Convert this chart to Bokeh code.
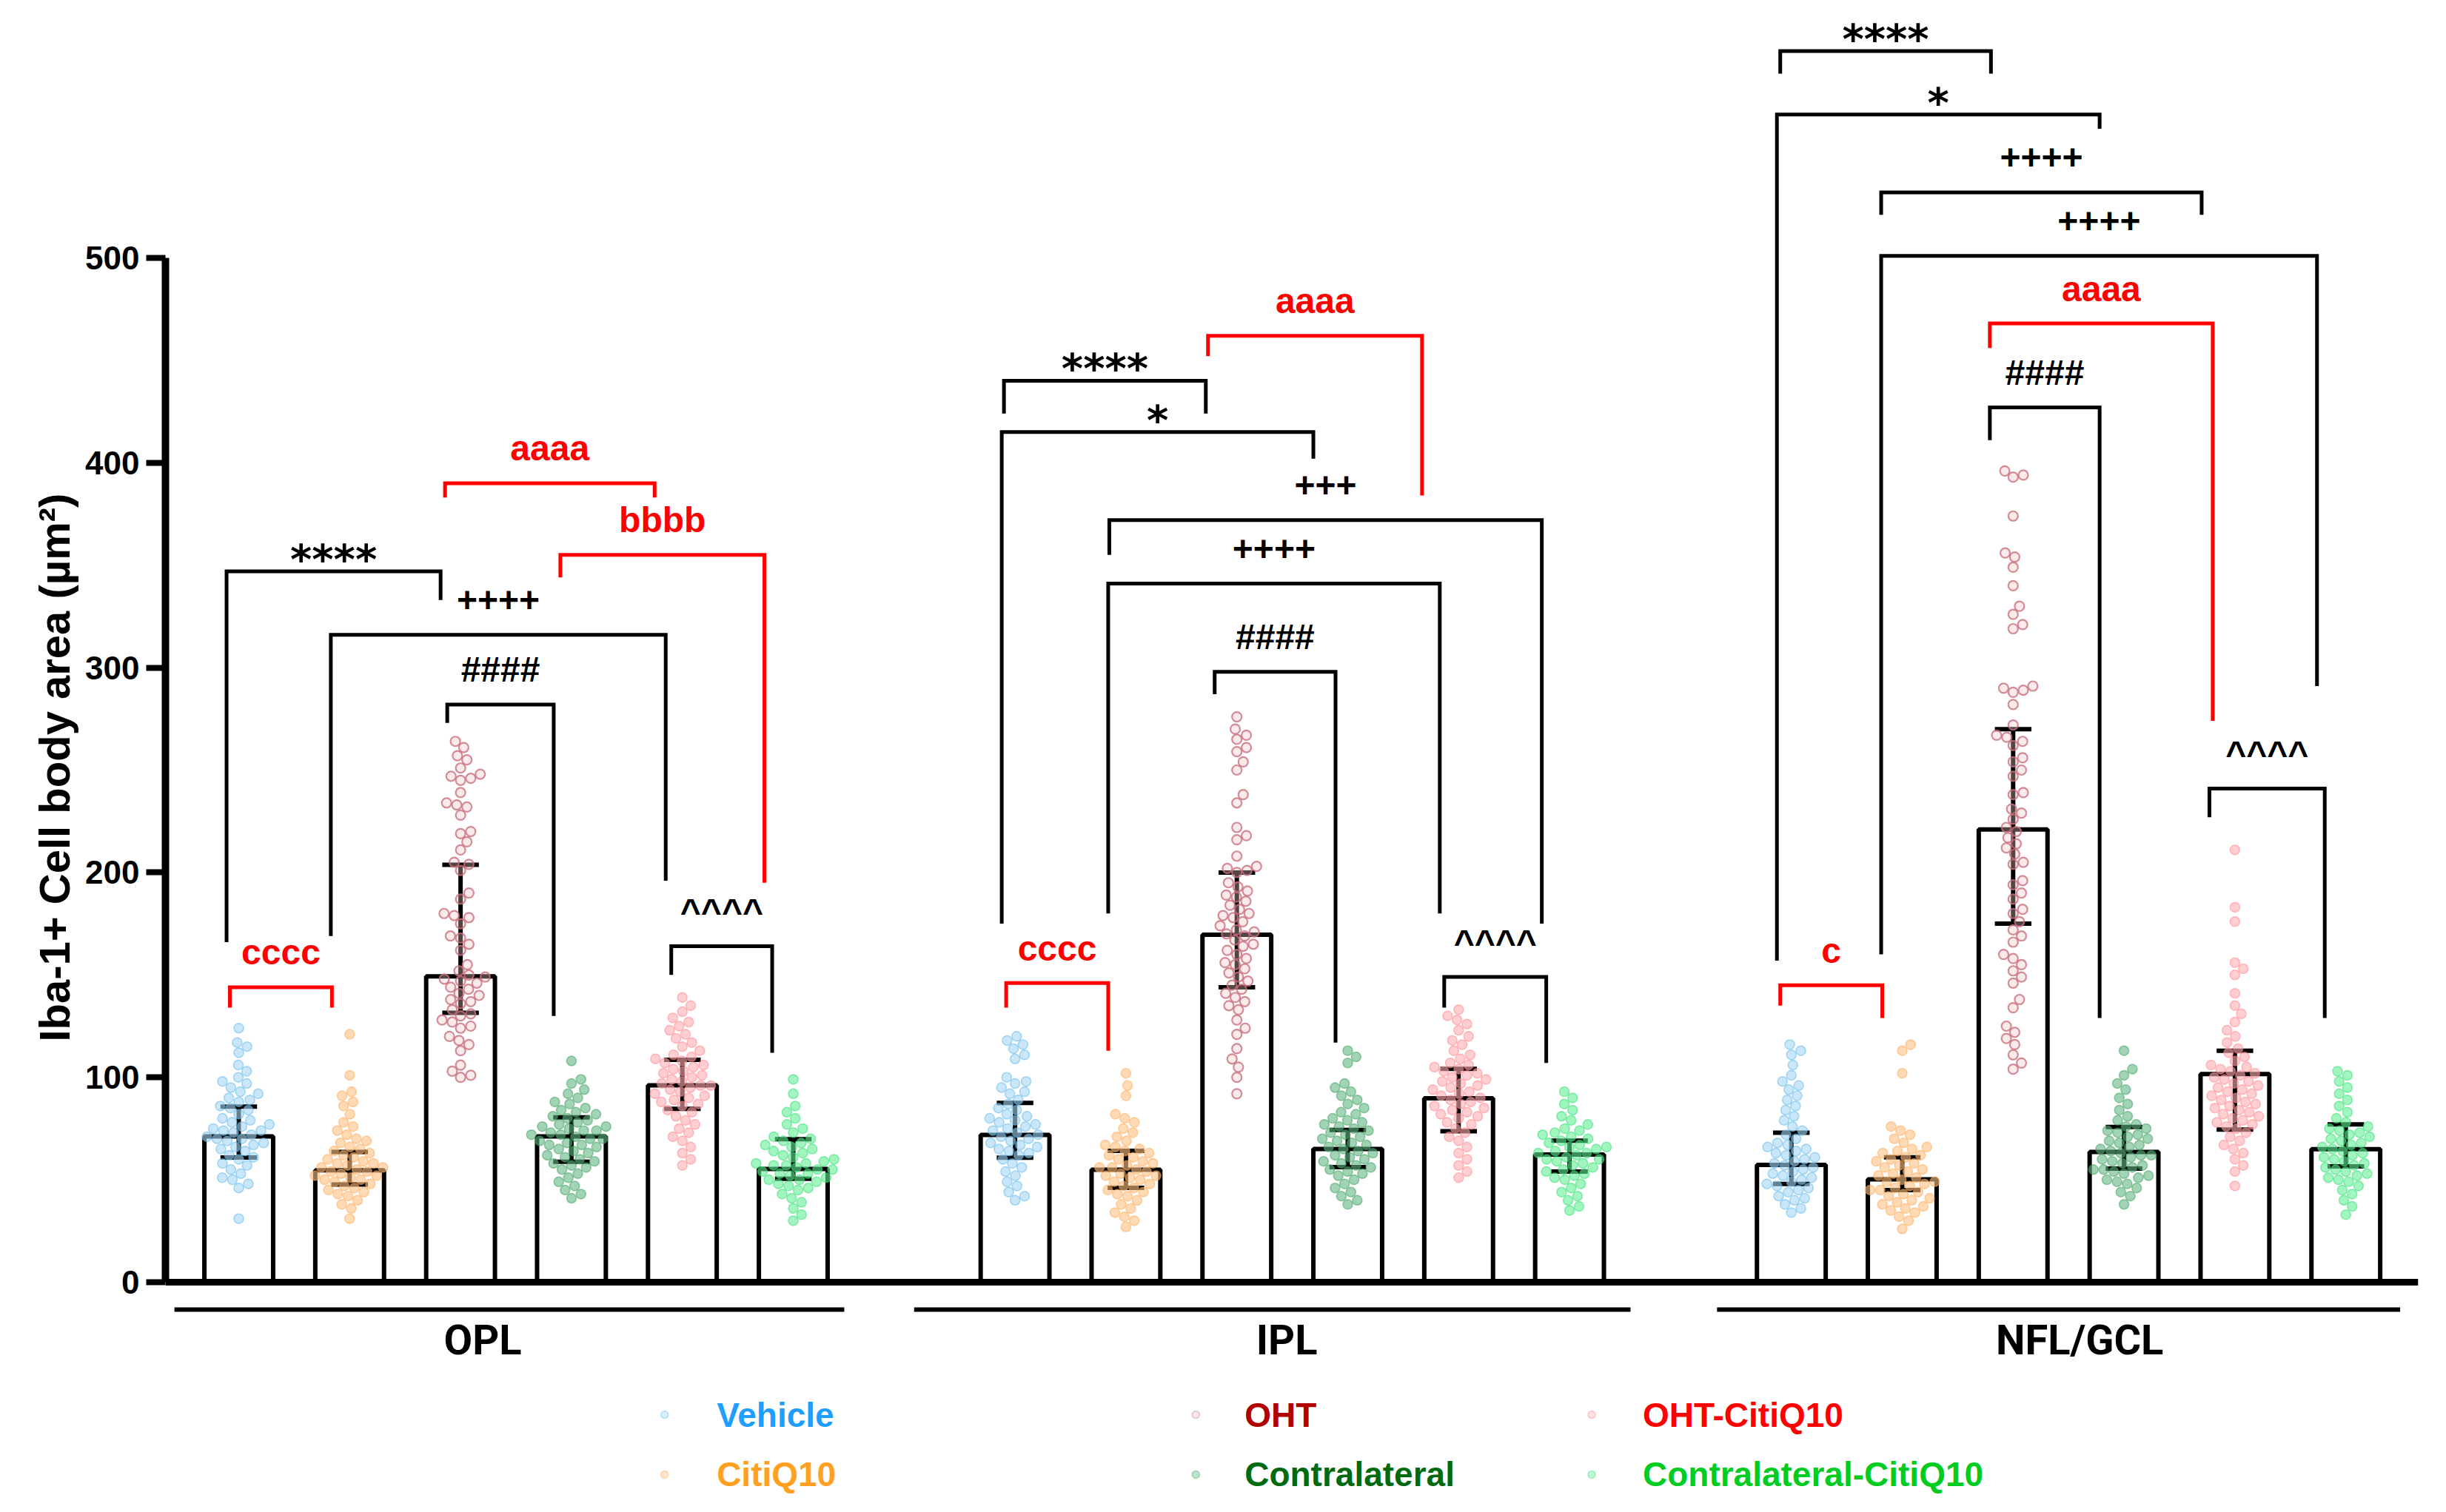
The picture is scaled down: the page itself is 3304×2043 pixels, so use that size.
import math
from bokeh.plotting import figure
from bokeh.models import Range1d, FixedTicker, Title
from bokeh.embed import file_html
from bokeh.resources import INLINE
from bokeh.core.properties import value

# ---------------- data ----------------
LAYERS = ["OPL", "IPL", "NFL/GCL"]
TREATMENTS = ["Vehicle", "CitiQ10", "OHT", "Contralateral", "OHT-CitiQ10", "Contralateral-CitiQ10"]
Y_TICKS = [0, 100, 200, 300, 400, 500]
Y_LABEL = "Iba-1+ Cell body area (µm²)"

# bar heights and error-bar ranges (per layer, per treatment)
BAR_OPL = [71.2, 54.6, 149.3, 71.2, 96.1, 55.3]
LO_OPL = [60.9, 47.7, 131.5, 58.8, 84.6, 50.5]
HI_OPL = [85.7, 63.6, 203.8, 80.5, 108.6, 69.8]

BAR_IPL = [71.9, 54.9, 169.6, 65.0, 89.8, 62.3]
LO_IPL = [60.8, 46.1, 144.0, 56.2, 73.7, 54.0]
HI_IPL = [87.5, 64.1, 200.0, 74.3, 104.1, 69.1]

BAR_NFL = [57.3, 50.2, 221.0, 63.6, 101.6, 64.9]
LO_NFL = [48.0, 45.0, 175.0, 55.5, 74.5, 56.5]
HI_NFL = [73.0, 61.0, 270.0, 75.8, 113.0, 77.0]

# individual cells
OPL_VEHICLE = [124, 117, 115, 112, 106, 103, 100, 98, 97, 95, 93, 92, 90, 89, 88, 86, 85, 84, 82, 80, 79, 78, 77, 76, 75, 74, 74, 73, 72, 71, 70, 70, 69, 68, 67, 66, 65, 64, 62, 61, 60, 58, 57, 55, 53, 51, 50, 48, 46, 31]
OPL_CITIQ10 = [121, 101, 93, 91, 88, 86, 82, 78, 76, 74, 72, 70, 69, 68, 66, 65, 64, 63, 62, 61, 60, 59, 58, 58, 57, 56, 56, 55, 54, 54, 53, 52, 52, 51, 50, 50, 49, 48, 47, 46, 45, 44, 43, 42, 40, 38, 36, 31]
OPL_OHT = [264, 261, 257, 255, 251, 248, 247, 246, 245, 239, 234, 233, 232, 228, 220, 219, 215, 211, 205, 204, 201, 190, 187, 180, 179, 178, 175, 169, 168, 165, 162, 155, 152, 150, 149, 148, 147, 146, 144, 143, 141, 140, 138, 137, 136, 133, 131, 130, 128, 127, 125, 124, 120, 118, 116, 113, 106, 103, 101, 100]
OPL_CONTRA = [108, 99, 97, 94, 92, 90, 88, 87, 85, 84, 83, 82, 81, 80, 79, 78, 77, 76, 76, 75, 74, 74, 73, 72, 72, 71, 70, 70, 69, 68, 67, 67, 66, 65, 64, 63, 62, 61, 60, 59, 58, 57, 56, 55, 53, 51, 49, 47, 45, 43, 41]
OPL_OHT_CITIQ10 = [139, 135, 132, 129, 127, 125, 123, 121, 119, 117, 115, 113, 111, 110, 109, 108, 107, 106, 105, 104, 103, 102, 101, 100, 99, 98, 97, 96, 96, 95, 94, 93, 92, 91, 90, 89, 88, 87, 86, 84, 83, 81, 79, 77, 75, 73, 71, 69, 66, 63, 60, 57]
OPL_CONTRA_CITIQ10 = [99, 92, 86, 83, 80, 77, 75, 73, 71, 70, 69, 68, 67, 66, 65, 64, 63, 62, 61, 60, 59, 58, 58, 57, 57, 56, 55, 55, 54, 53, 53, 52, 51, 50, 50, 49, 48, 47, 46, 45, 43, 41, 39, 36, 33, 30]

IPL_VEHICLE = [120, 118, 116, 114, 111, 109, 100, 98, 97, 95, 93, 92, 89, 87, 85, 84, 82, 81, 80, 79, 78, 77, 76, 75, 74, 73, 72, 71, 70, 69, 68, 67, 66, 65, 64, 63, 62, 60, 58, 56, 54, 52, 49, 47, 44, 42, 40]
IPL_CITIQ10 = [102, 96, 91, 82, 80, 78, 75, 73, 71, 69, 67, 66, 65, 64, 63, 62, 61, 60, 59, 58, 57, 56, 56, 55, 54, 53, 52, 52, 51, 50, 49, 48, 47, 46, 45, 44, 43, 42, 40, 38, 36, 34, 32, 30, 27]
IPL_OHT = [276, 270, 267, 265, 261, 259, 254, 250, 238, 234, 222, 218, 216, 208, 203, 202, 201, 200, 195, 193, 191, 189, 188, 186, 184, 182, 180, 179, 178, 176, 174, 172, 171, 170, 169, 167, 165, 164, 162, 160, 158, 156, 155, 153, 151, 149, 147, 145, 143, 141, 139, 137, 135, 133, 128, 124, 121, 114, 109, 105, 100, 92]
IPL_CONTRA = [113, 110, 107, 97, 95, 93, 91, 89, 87, 85, 83, 82, 80, 79, 78, 77, 76, 75, 74, 73, 72, 71, 70, 69, 68, 67, 66, 65, 64, 63, 62, 61, 60, 59, 58, 57, 56, 55, 54, 53, 52, 50, 48, 46, 44, 42, 40, 38]
IPL_OHT_CITIQ10 = [133, 130, 128, 126, 123, 120, 118, 116, 113, 111, 109, 107, 106, 105, 104, 103, 102, 101, 100, 99, 98, 97, 96, 95, 94, 93, 92, 91, 90, 89, 88, 87, 86, 85, 84, 83, 82, 81, 80, 78, 77, 75, 73, 71, 69, 66, 63, 60, 57, 54, 51]
IPL_CONTRA_CITIQ10 = [93, 90, 87, 84, 81, 79, 77, 75, 74, 73, 72, 71, 70, 69, 68, 67, 66, 66, 65, 64, 63, 63, 62, 61, 60, 60, 59, 58, 57, 56, 55, 54, 53, 52, 51, 50, 48, 46, 44, 42, 40, 37, 35]

NFL_VEHICLE = [116, 113, 111, 106, 101, 98, 96, 94, 91, 89, 86, 84, 81, 79, 76, 74, 72, 70, 68, 67, 66, 65, 64, 63, 62, 61, 60, 59, 58, 57, 56, 55, 54, 53, 52, 51, 50, 49, 48, 47, 46, 45, 44, 42, 41, 40, 38, 36, 34]
NFL_CITIQ10 = [116, 113, 102, 76, 74, 72, 70, 68, 66, 65, 64, 63, 62, 61, 60, 59, 58, 57, 56, 55, 54, 53, 52, 51, 50, 49, 49, 48, 47, 46, 45, 45, 44, 43, 42, 41, 40, 39, 38, 37, 36, 35, 34, 32, 30, 26]
NFL_OHT = [396, 394, 393, 374, 356, 354, 349, 340, 330, 326, 321, 319, 291, 290, 289, 288, 282, 272, 267, 266, 264, 262, 256, 254, 250, 247, 239, 238, 231, 229, 226, 222, 220, 217, 214, 212, 209, 205, 204, 196, 194, 190, 187, 182, 180, 176, 172, 169, 166, 160, 158, 155, 152, 149, 146, 138, 134, 125, 122, 119, 116, 111, 107, 104]
NFL_CONTRA = [113, 104, 101, 97, 94, 90, 87, 84, 81, 79, 77, 76, 75, 74, 73, 72, 71, 70, 69, 68, 67, 66, 65, 64, 63, 62, 62, 61, 60, 59, 58, 57, 56, 55, 55, 54, 53, 52, 51, 50, 49, 48, 46, 44, 42, 38]
NFL_OHT_CITIQ10 = [211, 183, 176, 156, 153, 150, 141, 135, 131, 127, 123, 120, 117, 114, 112, 110, 108, 106, 105, 104, 103, 102, 101, 100, 99, 98, 97, 96, 95, 94, 93, 92, 91, 90, 89, 88, 87, 86, 85, 84, 83, 82, 81, 80, 79, 78, 77, 76, 75, 73, 71, 69, 67, 65, 63, 60, 57, 54, 47]
NFL_CONTRA_CITIQ10 = [103, 101, 98, 95, 92, 89, 86, 83, 80, 78, 76, 75, 74, 73, 72, 71, 70, 69, 68, 67, 66, 65, 64, 63, 62, 61, 60, 59, 58, 57, 56, 55, 54, 53, 52, 51, 50, 49, 47, 45, 43, 40, 37, 33]

# significance brackets: (x_left, x_right, y_top, y_left_end, y_right_end, label, colour)
BRACKETS = [
    (-0.08, 0.84, 144, 134, 134, "cccc", "red"),
    (-0.11, 1.82, 347, 166, 333, "****", "black"),
    (0.83, 3.85, 316, 169, 196, "++++", "black"),
    (1.88, 2.84, 282, 273, 130, "####", "black"),
    (1.86, 3.75, 390, 383, 383, "aaaa", "red"),
    (2.90, 4.74, 355, 344, 195, "bbbb", "red"),
    (3.90, 4.81, 164, 150, 112, "^^^^", "black"),
    (6.90, 8.72, 440, 424, 424, "****", "black"),
    (6.88, 9.69, 415, 175, 402, "*", "black"),
    (8.74, 10.67, 462, 452, 384, "aaaa", "red"),
    (7.85, 11.75, 372, 355, 175, "+++", "black"),
    (7.84, 10.83, 341, 180, 180, "++++", "black"),
    (8.80, 9.89, 298, 287, 117, "####", "black"),
    (6.92, 7.84, 146, 134, 113, "cccc", "red"),
    (10.87, 11.79, 149, 134, 107, "^^^^", "black"),
    (13.90, 15.80, 601, 590, 590, "****", "black"),
    (13.87, 16.78, 570, 157, 563, "*", "black"),
    (14.81, 17.70, 532, 521, 521, "++++", "black"),
    (14.81, 18.74, 501, 160, 291, "++++", "black"),
    (15.79, 17.80, 468, 456, 274, "aaaa", "red"),
    (15.79, 16.78, 427, 411, 129, "####", "black"),
    (17.77, 18.81, 241, 227, 129, "^^^^", "black"),
    (13.90, 14.82, 145, 135, 129, "c", "red"),
]

# ---------------- styling ----------------
PT_FILL = ["#a6d6f5", "#ffc283", "#f3c2c7", "#62b882", "#ffaeb0", "#62ee95"]
PT_LINE = ["#58b6ea", "#ffa650", "#c9707c", "#3a9a5a", "#ff808a", "#2bdd6c"]
LEG_TEXT = ["#1e9fff", "#ffa020", "#b00000", "#006a10", "#ff0000", "#00cc22"]
RED = "#ff0000"

PX_X = 149.8   # px per category unit
PX_Y = 2.768   # px per value unit
X0, X1 = -0.661, 19.653
Y1 = 500 + 348 / PX_Y
Y0 = Y1 - 2027 / PX_Y

BAR_W = 0.62
CAP_HALF = 0.165

p = figure(width=3288, height=2027, x_range=Range1d(X0, X1), y_range=Range1d(Y0, Y1),
           output_backend="svg", toolbar_location=None, x_axis_location=None,
           min_border_left=223, min_border_right=22, min_border_top=0, min_border_bottom=0)
p.grid.visible = False
p.outline_line_color = None
p.background_fill_color = "white"

ax = p.yaxis[0]
ax.bounds = (0, 500)
ax.ticker = FixedTicker(ticks=Y_TICKS)
ax.axis_line_width = 10
ax.axis_line_color = "black"
ax.major_tick_out = 26
ax.major_tick_in = 0
ax.major_tick_line_width = 8
ax.minor_tick_out = 0
ax.minor_tick_in = 0
ax.major_label_text_font = "Liberation Sans"
ax.major_label_text_font_style = "bold"
ax.major_label_text_font_size = "44px"
ax.major_label_text_color = "black"
ax.major_label_standoff = 9

# y-axis title on the left side, placed so that it is centred on the drawn 0-500 axis
ytitle = Title(text=Y_LABEL, align="left", offset=620, standoff=14,
               text_font="Liberation Sans", text_font_style="bold", text_font_size="58px",
               text_color="black")
p.add_layout(ytitle, "left")

bars = [BAR_OPL, BAR_IPL, BAR_NFL]
los = [LO_OPL, LO_IPL, LO_NFL]
his = [HI_OPL, HI_IPL, HI_NFL]
points = [
    [OPL_VEHICLE, OPL_CITIQ10, OPL_OHT, OPL_CONTRA, OPL_OHT_CITIQ10, OPL_CONTRA_CITIQ10],
    [IPL_VEHICLE, IPL_CITIQ10, IPL_OHT, IPL_CONTRA, IPL_OHT_CITIQ10, IPL_CONTRA_CITIQ10],
    [NFL_VEHICLE, NFL_CITIQ10, NFL_OHT, NFL_CONTRA, NFL_OHT_CITIQ10, NFL_CONTRA_CITIQ10],
]

xs, tops, lo_all, hi_all = [], [], [], []
for g in range(3):
    for t in range(6):
        xs.append(g * 7 + t)
        tops.append(bars[g][t])
        lo_all.append(los[g][t])
        hi_all.append(his[g][t])

# bars
p.vbar(x=xs, top=tops, bottom=0, width=BAR_W, fill_color="white", line_color="black", line_width=6)

# error bars
p.segment(x0=xs, y0=lo_all, x1=xs, y1=hi_all, line_color="black", line_width=6)
p.segment(x0=[x - CAP_HALF for x in xs], y0=lo_all, x1=[x + CAP_HALF for x in xs], y1=lo_all,
          line_color="black", line_width=6)
p.segment(x0=[x - CAP_HALF for x in xs], y0=hi_all, x1=[x + CAP_HALF for x in xs], y1=hi_all,
          line_color="black", line_width=6)


def swarm(vals, center, d):
    order = sorted(range(len(vals)), key=lambda i: vals[i])
    placed = []
    out = [center] * len(vals)
    for i in order:
        y = vals[i] * PX_Y
        cands = [0.0]
        for (px, py) in placed:
            dy = y - py
            if abs(dy) < d:
                dx = math.sqrt(d * d - dy * dy)
                cands.append(px + dx + 0.01)
                cands.append(px - dx - 0.01)
        cands.sort(key=lambda c: abs(c))
        best = 0.0
        for c in cands:
            if all((c - px) ** 2 + (y - py) ** 2 >= d * d - 1e-6 for (px, py) in placed):
                best = c
                break
        placed.append((best, y))
        out[i] = center + best / PX_X
    return out


for t in range(6):
    sx, sy = [], []
    for g in range(3):
        vals = points[g][t]
        sx += swarm(vals, g * 7 + t, 14)
        sy += vals
    if t == 2:
        p.scatter(sx, sy, size=13, fill_color=PT_FILL[t], fill_alpha=0.35,
                  line_color=PT_LINE[t], line_alpha=0.8, line_width=2.2)
    else:
        p.scatter(sx, sy, size=13, fill_color=PT_FILL[t], fill_alpha=0.6,
                  line_color=PT_LINE[t], line_alpha=0.5, line_width=1.5)

# x axis line
p.segment(x0=[X0], y0=[0], x1=[X1], y1=[0], line_color="black", line_width=9)

# brackets
bx, by, bc = [], [], []
for (x1, x2, top, e1, e2, lab, col) in BRACKETS:
    bx.append([x1, x1, x2, x2])
    by.append([e1, top, top, e2])
    bc.append(RED if col == "red" else "black")
p.multi_line(bx, by, line_color=bc, line_width=5, line_join="miter")

for (x1, x2, top, e1, e2, lab, col) in BRACKETS:
    c = RED if col == "red" else "black"
    if "*" in lab:
        p.text([(x1 + x2) / 2], [top + 6], text=[lab], text_align="center", text_baseline="middle",
               text_font=value("DejaVu Sans"), text_font_style="bold", text_font_size="56px",
               text_color=c)
    else:
        p.text([(x1 + x2) / 2], [top + 17], text=[lab], text_align="center", text_baseline="middle",
               text_font=value("Liberation Sans"), text_font_style="bold", text_font_size="48px",
               text_color=c)

# layer underlines and labels
UNDER = [(-0.58, 5.46), (6.09, 12.55), (13.33, 19.49)]
LABEL_X = [2.2, 9.45, 16.6]
p.segment(x0=[u[0] for u in UNDER], y0=[-13.4] * 3, x1=[u[1] for u in UNDER], y1=[-13.4] * 3,
          line_color="black", line_width=6)
p.text(LABEL_X, [-28.5] * 3, text=LAYERS, text_align="center", text_baseline="middle",
       text_font=value("Roboto"), text_font_style="bold", text_font_size="56px", text_color="black")

# legend (two rows x three columns)
LEG_MX = [3.84, 3.84, 8.63, 8.63, 12.2, 12.2]
LEG_TX = [4.31, 4.31, 9.07, 9.07, 12.66, 12.66]
LEG_Y = [-64.7, -93.9, -64.7, -93.9, -64.7, -93.9]
for t in range(6):
    p.scatter([LEG_MX[t]], [LEG_Y[t]], size=10, fill_color=PT_FILL[t], fill_alpha=0.4,
              line_color=PT_LINE[t], line_alpha=0.4, line_width=1.5)
    p.text([LEG_TX[t]], [LEG_Y[t]], text=[TREATMENTS[t]], text_align="left", text_baseline="middle",
           text_font=value("Liberation Sans"), text_font_style="bold", text_font_size="46px",
           text_color=LEG_TEXT[t])

open("out.html", "w").write(file_html(p, INLINE))
